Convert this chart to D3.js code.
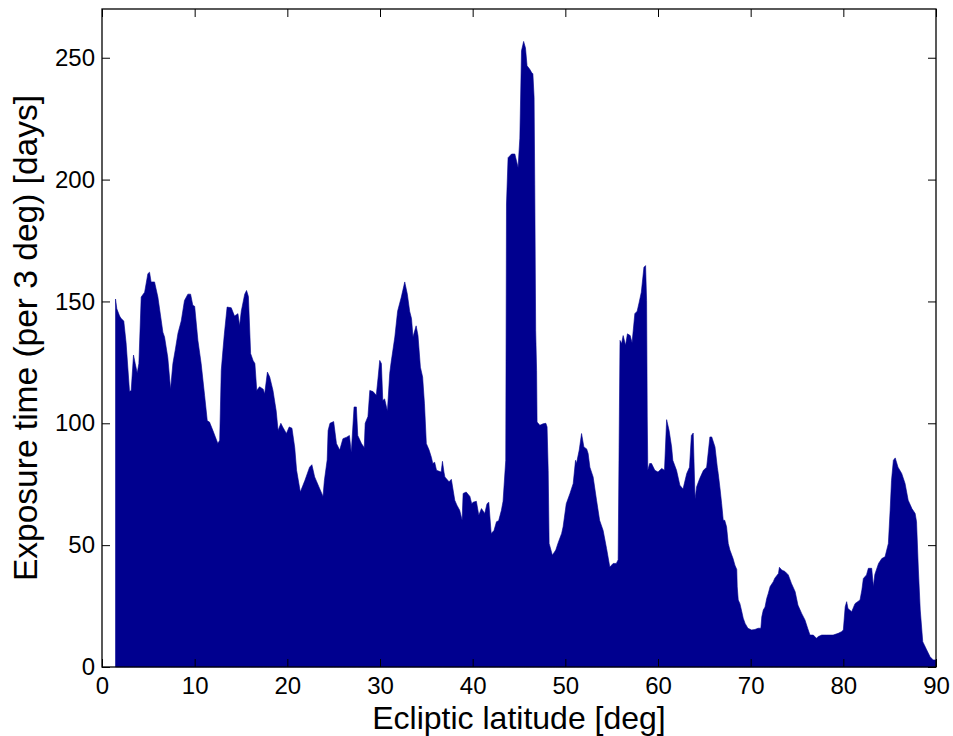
<!DOCTYPE html>
<html>
<head>
<meta charset="utf-8">
<script src="https://cdn.jsdelivr.net/npm/d3@7"></script>
<style>
  html, body { margin: 0; padding: 0; background: #ffffff; }
  svg { display: block; }
  text { font-family: "Liberation Sans", Arial, Helvetica, sans-serif; fill: #000; }
</style>
</head>
<body>
<svg id="chart" width="953" height="736"></svg>
<script>
// Ecliptic latitude (deg) of each sampled profile point
const latitude = [
  1.46, 1.6, 1.9, 2.07, 2.35, 2.6, 2.97, 3.15, 3.4, 3.58, 3.8, 3.98, 4.23, 4.6, 4.95, 5.13, 5.3, 5.67,
  6.03, 6.4, 6.57, 6.75, 7.1, 7.4, 7.65, 7.9, 8.2, 8.55, 8.9, 9.27, 9.56, 9.8, 10.0, 10.35, 10.7,
  11.07, 11.36, 11.6, 11.97, 12.5, 12.7, 12.87, 13.05, 13.2, 13.5, 13.95, 14.3, 14.67, 14.85, 15.03,
  15.4, 15.6, 15.8, 16.04, 16.3, 16.5, 16.7, 17.0, 17.4, 17.55, 17.85, 18.1, 18.45, 18.8, 19.0, 19.3,
  19.5, 19.9, 20.2, 20.5, 20.8, 21.0, 21.4, 21.9, 22.4, 22.65, 22.95, 23.4, 23.85, 24.0, 24.3, 24.4,
  24.6, 25.0, 25.3, 25.65, 26.0, 26.4, 26.7, 26.9, 27.2, 27.45, 27.6, 28.0, 28.3, 28.4, 28.7, 28.9,
  29.25, 29.6, 29.8, 29.97, 30.15, 30.3, 30.5, 30.8, 31.05, 31.2, 31.6, 31.9, 32.3, 32.67, 32.95, 33.2,
  33.4, 33.56, 33.9, 34.1, 34.36, 34.6, 34.8, 35.0, 35.3, 35.55, 35.7, 35.9, 36.1, 36.6, 36.74, 36.9,
  37.0, 37.45, 37.7, 38.07, 38.3, 38.6, 38.86, 38.97, 39.3, 39.7, 39.9, 40.04, 40.4, 40.66, 40.95,
  41.3, 41.55, 41.74, 42.0, 42.3, 42.57, 42.8, 43.1, 43.28, 43.57, 43.65, 43.82, 44.2, 44.55, 44.9,
  45.09, 45.27, 45.5, 45.7, 45.87, 46.16, 46.35, 46.5, 46.63, 46.7, 46.8, 46.9, 46.95, 47.25, 47.6,
  47.9, 48.03, 48.15, 48.25, 48.6, 48.97, 49.2, 49.6, 49.76, 50.1, 50.5, 50.85, 51.1, 51.2, 51.5,
  51.75, 52.0, 52.3, 52.46, 52.65, 53.0, 53.37, 53.7, 54.08, 54.45, 54.8, 55.16, 55.5, 55.7, 55.8,
  55.9, 56.07, 56.24, 56.5, 56.7, 57.0, 57.2, 57.5, 57.75, 57.97, 58.2, 58.48, 58.66, 58.77, 58.84,
  58.9, 59.1, 59.3, 59.66, 60.0, 60.4, 60.7, 60.93, 61.2, 61.47, 61.6, 62.0, 62.36, 62.7, 63.1, 63.4,
  63.6, 63.8, 64.0, 64.17, 64.5, 64.9, 65.25, 65.6, 65.8, 66.15, 66.4, 66.5, 66.7, 66.87, 67.04, 67.2,
  67.4, 67.58, 67.76, 68.1, 68.3, 68.5, 68.55, 68.66, 68.84, 69.0, 69.2, 69.4, 69.7, 70.1, 70.46,
  70.8, 71.1, 71.2, 71.36, 71.55, 71.73, 71.9, 72.1, 72.44, 72.6, 73.0, 73.1, 73.35, 73.7, 74.06,
  74.4, 74.8, 75.1, 75.5, 75.86, 76.15, 76.4, 76.76, 77.1, 77.3, 77.67, 78.2, 78.9, 79.45, 79.8, 80.0,
  80.2, 80.36, 80.5, 80.9, 81.26, 81.8, 82.0, 82.16, 82.5, 82.7, 83.06, 83.24, 83.4, 83.8, 84.15,
  84.5, 84.86, 85.05, 85.2, 85.4, 85.6, 85.9, 86.3, 86.66, 87.0, 87.4, 87.75, 87.9, 88.1, 88.3, 88.57,
  89.0, 89.36, 89.7, 90.0
];

// Exposure time (days per 3 deg) at each latitude above
const exposure = [
  151, 147, 144, 143, 142, 133, 113, 113.5, 128, 124.6, 120.6, 124.5, 151.8, 153.8, 161.4, 162, 158, 158,
  151.8, 142, 137.4, 135.4, 127, 114, 124.5, 130, 137, 142, 150.4, 153, 153, 148.4, 148, 134, 124.5,
  111.5, 101, 100.5, 97, 91.7, 93, 121.7, 130, 136.5, 147.7, 147.4, 144, 145, 140, 146,
  153, 154.5, 152, 128.6, 125.8, 124.5, 113.5, 115, 114, 112, 121, 119, 113.5, 105, 97, 100,
  98.5, 95.8, 98.5, 98, 90, 80.7, 71.8, 76.6, 82, 83, 78, 74, 70, 76.6, 85, 97,
  100, 100.7, 91.7, 89, 93.7, 94.3, 95, 88, 106.7, 106.7, 95, 91.7, 90, 100, 102.8, 113.5,
  113, 111.5, 119, 125.8, 124.5, 109.4, 110, 105, 120.5, 125, 135.4, 146, 151.8, 158, 153, 146,
  143, 135.4, 140, 136, 123, 119, 108, 91.7, 89, 86, 83.5, 84, 80.7, 80, 84.4, 80,
  78, 76, 77, 68.4, 66.4, 64.3, 60.2, 71.2, 71.8, 70, 67, 67.6, 68, 62.3, 65,
  63, 67, 67.6, 54.8, 56, 59.6, 60, 64.3, 68, 84.8, 190, 209, 210.5, 210.5, 205,
  217, 252.9, 256.7, 254, 246.7, 245.3, 244, 243.4, 233.7, 198, 138, 121.7, 100.5, 99.2, 99.8,
  100, 98.5, 80.7, 50.7, 45.9, 48, 50.7, 54.8, 57.5, 67, 71.2, 75.3, 84.8, 83.5, 89,
  95.8, 90.3, 89.5, 87.6, 82, 78, 68.4, 60.2, 56, 48.6, 41, 42.5, 42.5, 44, 90,
  134, 132.7, 136, 132, 136.7, 136, 133, 145, 146, 149.7, 153.8, 164, 164.7, 150.4, 102.6,
  80.7, 83.5, 83.5, 80.7, 80, 81.5, 80.7, 101.5, 97, 90.3, 84.8, 80.7, 74.6, 73, 79.4, 82,
  95, 96, 69, 74, 77.3, 80.7, 82, 94.4, 94.4, 90.3, 82, 79.4, 73, 67, 60.2, 60.2,
  57.5, 50.7, 48, 44.5, 41.8, 40, 32.9, 27.5, 26, 23.4, 20, 17.9, 15.9, 15.2, 15.4,
  15.9, 15.9, 20.6, 23.4, 24.6, 28.1, 30.2, 33, 35, 36.4, 38.4, 40.9, 39.8, 39.2, 37.8,
  34.3, 30.9, 25.4, 22, 19.3, 15.9, 13.1, 13.1, 11.8, 12.5, 13.1, 13.1, 13.1, 13.8, 14.5, 15.2,
  24.7, 26.8, 24, 22.7, 26, 27.5, 31.6, 36.3, 37.8, 40.5, 40.5, 33, 38, 42.5, 44.5,
  45.2, 50.7, 64.3, 76.6, 84.8, 85.8, 82, 79.4, 75.3, 68.4, 65, 63, 59.6, 39.8, 23.4, 10.4,
  7, 4.2, 2.9, 2.9
];

const xTicks = [0, 10, 20, 30, 40, 50, 60, 70, 80, 90];
const yTicks = [0, 50, 100, 150, 200, 250];
const xDomain = [0, 90];
const yDomain = [0, 270];

const margin = { left: 102, top: 9, right: 17, bottom: 69 };
const W = 953, H = 736;
const innerW = W - margin.left - margin.right;
const innerH = H - margin.top - margin.bottom;

const svg = d3.select("#chart");
const g = svg.append("g").attr("transform", `translate(${margin.left},${margin.top})`);

const x = d3.scaleLinear().domain(xDomain).range([0, innerW]);
const y = d3.scaleLinear().domain(yDomain).range([innerH, 0]);

const points = latitude.map((lat, i) => ({ lat, v: exposure[i] }));

// Filled exposure profile
const area = d3.area()
  .x(d => x(d.lat))
  .y0(y(0))
  .y1(d => y(d.v))
  .curve(d3.curveLinear);

g.append("path")
  .datum(points)
  .attr("d", area)
  .attr("fill", "#00008f")
  .attr("stroke", "#00008f")
  .attr("stroke-width", 0.6)
  .attr("stroke-linejoin", "miter");

// Inward ticks on all four sides, box frame
const tickLen = 8;
const fontSize = 24;

const bottomAxis = d3.axisBottom(x).tickValues(xTicks).tickSize(-tickLen).tickPadding(10).tickFormat(d3.format("d"));
const topAxis = d3.axisTop(x).tickValues(xTicks).tickSize(-tickLen).tickFormat("");
const leftAxis = d3.axisLeft(y).tickValues(yTicks).tickSize(-tickLen).tickPadding(7).tickFormat(d3.format("d"));
const rightAxis = d3.axisRight(y).tickValues(yTicks).tickSize(-tickLen).tickFormat("");

function styleAxis(sel) {
  sel.select(".domain").remove();
  sel.selectAll(".tick line").attr("stroke", "#000").attr("stroke-width", 1);
  sel.selectAll(".tick text")
    .attr("font-size", fontSize)
    .attr("font-family", "'Liberation Sans', Arial, Helvetica, sans-serif")
    .attr("fill", "#000");
}

g.append("g").attr("transform", `translate(0,${innerH})`).call(bottomAxis).call(styleAxis);
g.append("g").call(topAxis).call(styleAxis);
g.append("g").call(leftAxis).call(styleAxis);
g.append("g").attr("transform", `translate(${innerW},0)`).call(rightAxis).call(styleAxis);

g.append("rect")
  .attr("x", 0).attr("y", 0)
  .attr("width", innerW).attr("height", innerH)
  .attr("fill", "none")
  .attr("stroke", "#000")
  .attr("stroke-width", 1.3);

// Axis titles
g.append("text")
  .attr("x", innerW / 2)
  .attr("y", innerH + 61.5)
  .attr("text-anchor", "middle")
  .attr("font-size", 32)
  .text("Ecliptic latitude [deg]");

g.append("text")
  .attr("transform", `translate(${-margin.left + 37},${innerH / 2}) rotate(-90)`)
  .attr("text-anchor", "middle")
  .attr("font-size", 33.5)
  .text("Exposure time (per 3 deg) [days]");
</script>
</body>
</html>
